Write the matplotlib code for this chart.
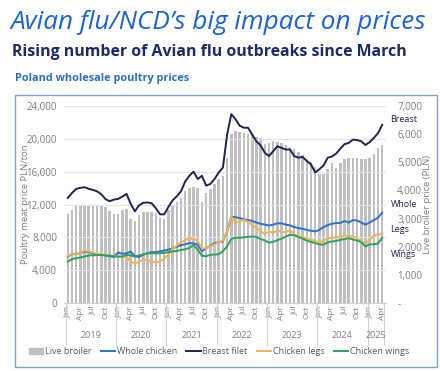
import matplotlib
matplotlib.use("Agg")
import matplotlib.pyplot as plt
import matplotlib.transforms as mtransforms
from matplotlib.patches import Rectangle
from matplotlib.lines import Line2D
from matplotlib.ticker import FuncFormatter, MultipleLocator
import numpy as np
import pandas as pd

# ------------------------------------------------------------------ #
#  Data (Jan 2019 - Apr 2025, monthly)                                #
# ------------------------------------------------------------------ #
months = pd.date_range("2019-01-01", "2025-04-01", freq="MS")

# live broiler, PLN (right axis)
live_broiler = [
    3150, 3300, 3440, 3440, 3440, 3440, 3440, 3440, 3440, 3420, 3260, 3160,
    3180, 3300, 3350, 2980, 2930, 3120, 3240, 3240, 3220, 3200, 3020, 3000,
    3320, 3440, 3580, 3740, 3980, 4080, 4130, 4080, 3600, 3920, 4040, 4220,
    4400, 4500, 5170, 6010, 6110, 6070, 6050, 6010, 6000, 5890, 5850, 5650,
    5680, 5760, 5710, 5680, 5600, 5540, 5460, 5350, 5260, 5120, 5020, 4820,
    4600, 4600, 4750, 4970, 4810, 4970, 5110, 5150, 5170, 5150, 5110, 5110,
    5150, 5290, 5500, 5630,
]
# poultry meat, PLN/ton (left axis)
whole_chicken = [
    5660, 5950, 5950, 6100, 6250, 6250, 6000, 5900, 5850, 5800, 5700, 5600,
    6150, 6000, 6050, 6250, 5700, 5600, 5900, 6050, 6200, 6200, 6300, 6400,
    6500, 6650, 6850, 7050, 7150, 7300, 7250, 7100, 6300, 6700, 6950, 7300,
    7400, 7500, 8700, 10500, 10450, 10350, 10200, 10100, 10000, 9800, 9650, 9550,
    9450, 9550, 9700, 9700, 9550, 9450, 9250, 9130, 9050, 8900, 8800, 8720,
    8900, 9250, 9500, 9650, 9740, 9740, 10000, 9800, 10100, 10050, 9800, 9550,
    9800, 10100, 10400, 11000,
]
breast_filet = [
    12800, 13400, 13900, 14030, 14100, 13900, 13780, 13600, 13250, 12650, 12400, 12600,
    12680, 12950, 13300, 12100, 11170, 11900, 12200, 12250, 12150, 11550, 10800, 10800,
    11700, 12500, 13000, 13600, 14800, 15500, 16000, 15100, 15500, 14300, 14500, 15100,
    15900, 16500, 20500, 23000, 22400, 21600, 21350, 21350, 20500, 19700, 19200, 18300,
    17900, 18500, 19100, 18900, 18700, 18700, 17900, 17700, 17800, 17300, 16900, 15900,
    16300, 16750, 17700, 17850, 18200, 18800, 19350, 19500, 19900, 19850, 19700, 19250,
    19600, 20100, 20700, 21700,
]
chicken_legs = [
    5750, 5950, 5900, 6100, 6400, 6300, 6150, 6000, 5950, 5850, 5800, 5750,
    5700, 5650, 5650, 5000, 4850, 5000, 5350, 5200, 5050, 4950, 5050, 5400,
    5900, 6600, 7000, 7400, 7650, 7900, 7800, 7600, 6600, 6700, 6900, 7150,
    7400, 7600, 8700, 10550, 9800, 9950, 10150, 9850, 9500, 9100, 8750, 8400,
    8700, 8550, 8850, 8700, 8600, 8900, 8350, 8150, 8000, 7900, 7700, 7580,
    7400, 7600, 7900, 7950, 8000, 8100, 8150, 8230, 8150, 7900, 7500, 7200,
    7700, 8200, 8350, 8400,
]
chicken_wings = [
    5050, 5350, 5450, 5550, 5650, 5800, 5800, 5850, 5850, 5800, 5750, 5700,
    5650, 5650, 5850, 5800, 5650, 5800, 5900, 6050, 6070, 6050, 6070, 6100,
    6200, 6280, 6350, 6450, 6550, 6700, 7050, 6500, 5750, 5700, 5870, 5900,
    5950, 6300, 6900, 7800, 7950, 7950, 8000, 8050, 8100, 8050, 7800, 7620,
    7350, 7450, 7650, 7850, 8100, 8320, 8250, 8050, 7850, 7600, 7450, 7300,
    7150, 7100, 7400, 7500, 7550, 7700, 7800, 7900, 7750, 7600, 7420, 6900,
    7150, 7150, 7250, 7950,
]

series = [
    ("Whole chicken", whole_chicken, "#2f6fd0", "Whole"),
    ("Breast filet", breast_filet, "#1b2452", "Breast"),
    ("Chicken legs", chicken_legs, "#f2b451", "Legs"),
    ("Chicken wings", chicken_wings, "#2ca25f", "Wings"),
]
end_label_y = {"Breast": 22300, "Whole": 12000, "Legs": 8950, "Wings": 5850}

GREY = "#7f7f7f"
BAR = "#bfbfbf"
plt.rcParams["font.family"] = ["Open Sans", "DejaVu Sans"]

W, H = 440, 371
fig = plt.figure(figsize=(W / 100, H / 100), dpi=100)
fig.patch.set_facecolor("white")


def fx(px):
    return px / W


def fy(py):
    return 1 - py / H


# titles
fig.text(fx(10), fy(29), "Avian flu/NCD\u2019s big impact on prices", fontsize=18.8,
         style="italic", color="#1a62d6", va="baseline", ha="left")
fig.text(fx(12), fy(55.5), "Rising number of Avian flu outbreaks since March", fontsize=11.4,
         fontweight="bold", color="#1c2a6b", va="baseline", ha="left")
fig.text(fx(15), fy(81), "Poland wholesale poultry prices", fontsize=7.8,
         fontweight="bold", color="#2a6fc2", va="baseline", ha="left")

# frame around chart
fig.patches.append(Rectangle((fx(15), fy(367)), (437 - 15) / W, (367 - 95) / H,
                             transform=fig.transFigure, fill=False,
                             ec="#7aa7d6", lw=1.0))

# ------------------------------------------------------------------ #
#  Axes                                                               #
# ------------------------------------------------------------------ #
ax = fig.add_axes([fx(64), fy(303), (386 - 64) / W, (303 - 106) / H])
ax2 = ax.twinx()
ax.set_zorder(ax2.get_zorder() + 1)
ax.patch.set_visible(False)

x = np.arange(len(months))
ax2.bar(x, live_broiler, width=0.6, color=BAR, label="Live broiler")
ax2.set_ylim(0, 7000)
ax2.yaxis.set_major_locator(MultipleLocator(1000))
ax2.yaxis.set_major_formatter(FuncFormatter(lambda v, p: "-" if v == 0 else f"{v:,.0f}"))

for name, vals, col, short in series:
    ax.plot(x, vals, color=col, lw=1.4, label=name, solid_joinstyle="round")
    ax.text(x[-1] + 2.0, end_label_y[short], short, fontsize=6.5, color="#1b2452",
            ha="left", va="center", clip_on=False)

ax.set_ylim(0, 24000)
ax.set_xlim(-0.9, len(months) - 0.1)
ax.yaxis.set_major_locator(MultipleLocator(4000))
ax.yaxis.set_major_formatter(FuncFormatter(lambda v, p: f"{v:,.0f}"))
ax.grid(axis="y", color="#e3e3e3", lw=0.8)
ax.set_axisbelow(True)

for a in (ax, ax2):
    for s in a.spines.values():
        s.set_visible(False)
ax.spines["bottom"].set_visible(True)
ax.spines["bottom"].set_color("#d0d0d0")
ax.spines["bottom"].set_linewidth(0.8)

ax.tick_params(axis="y", length=0, labelsize=7, labelcolor=GREY, pad=5)
ax2.tick_params(axis="y", length=0, labelsize=7, labelcolor=GREY, pad=8)

# month ticks
qmask = months.month.isin([1, 4, 7, 10])
ax.set_xticks(x[qmask])
ax.set_xticklabels(months[qmask].strftime("%b"), rotation=90, fontsize=6, color=GREY)
ax.tick_params(axis="x", length=0, pad=2)

# year groups
trans = mtransforms.blended_transform_factory(ax.transData, ax.transAxes)
years = months.year
for yr in np.unique(years):
    idx = x[years == yr]
    ax.plot([idx[0] - 0.5] * 2, [0, -0.215], transform=trans, color="#d0d0d0",
            lw=0.8, clip_on=False)
    ax.text(idx.mean(), -0.165, str(yr), transform=trans, ha="center", va="center",
            fontsize=6.5, color=GREY)
ax.plot([x[-1] + 0.5] * 2, [0, -0.215], transform=trans, color="#d0d0d0",
        lw=0.8, clip_on=False)

# axis titles
fig.text(fx(25), fy(204), "Poultry meat price PLN/ton", rotation=90, fontsize=6.8,
         color=GREY, ha="center", va="center")
fig.text(fx(427), fy(204), "Live broiler price (PLN)", rotation=90, fontsize=6.8,
         color=GREY, ha="center", va="center")

# legend
handles = [Rectangle((0, 0), 1, 1, color=BAR)] + [
    Line2D([0], [0], color=c, lw=1.4) for _, _, c, _ in series]
labels = ["Live broiler"] + [n for n, _, _, _ in series]
fig.legend(handles, labels, loc="center", bbox_to_anchor=(fx(219), fy(352)), ncol=5,
           frameon=False, fontsize=6.5, handlelength=1.6, handleheight=0.6,
           handletextpad=0.2, columnspacing=1.0, labelcolor="#595959")

fig.savefig("out.png", dpi=100)
